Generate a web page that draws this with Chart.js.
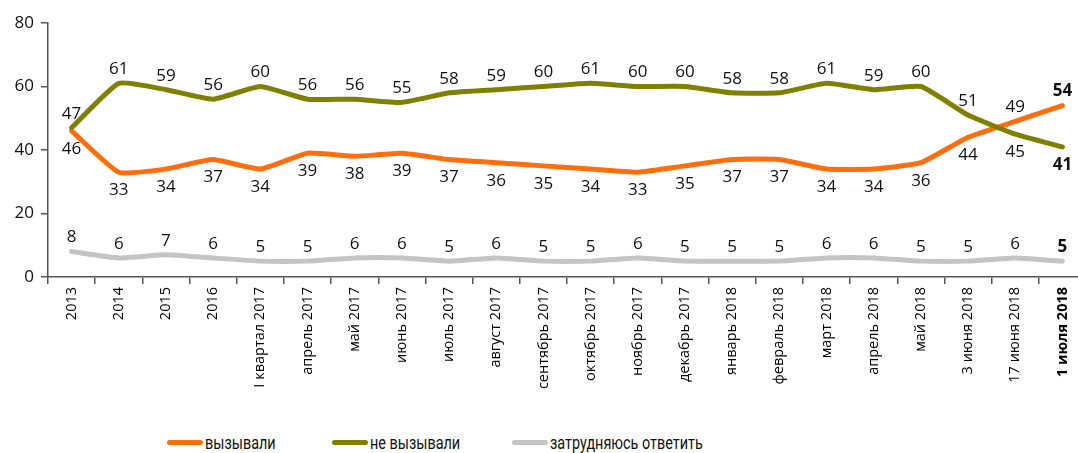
<!DOCTYPE html>
<html lang="ru">
<head>
    <meta charset="UTF-8">
    <title>Вызывали / не вызывали</title>
    <script src="https://cdn.jsdelivr.net/npm/chart.js@4.4.0/dist/chart.umd.min.js"></script>
    <style>
        body {
            margin: 0;
            background: #fff;
            overflow: hidden;
        }
        #wrap {
            position: relative;
            width: 1078px;
            height: 453px;
            overflow: hidden;
        }
        #chart {
            position: absolute;
            left: 0;
            top: 0;
        }
        .legend-item {
            position: absolute;
            top: 432px;
            display: flex;
            align-items: center;
            font-family: Roboto, sans-serif;
            font-size: 18px;
            color: #111;
            white-space: nowrap;
        }
        .legend-mark {
            display: inline-block;
            width: 36px;
            height: 5px;
            border-radius: 3px;
            margin-right: 2px;
        }
        .legend-text {
            display: inline-block;
            transform: scaleX(0.8);
            transform-origin: left center;
        }
    </style>
</head>
<body>
    <div id="wrap">
        <canvas id="chart" width="1086" height="420"></canvas>
    </div>

    <script>
        // Data
        const categories = [
            '2013', '2014', '2015', '2016', 'I квартал 2017', 'апрель 2017', 'май 2017',
            'июнь 2017', 'июль 2017', 'август 2017', 'сентябрь 2017', 'октябрь 2017',
            'ноябрь 2017', 'декабрь 2017', 'январь 2018', 'февраль 2018', 'март 2018',
            'апрель 2018', 'май 2018', '3 июня 2018', '17 июня 2018', '1 июля 2018'
        ];
        const calledValues    = [46, 33, 34, 37, 34, 39, 38, 39, 37, 36, 35, 34, 33, 35, 37, 37, 34, 34, 36, 44, 49, 54];
        const notCalledValues = [47, 61, 59, 56, 60, 56, 56, 55, 58, 59, 60, 61, 60, 60, 58, 58, 61, 59, 60, 51, 45, 41];
        const unsureValues    = [8, 6, 7, 6, 5, 5, 6, 6, 5, 6, 5, 5, 6, 5, 5, 5, 6, 6, 5, 5, 6, 5];
        const seriesNames = ['вызывали', 'не вызывали', 'затрудняюсь ответить'];
        const yMin = 0, yMax = 80, yStep = 20;

        const colors = ['#FF6D0D', '#808000', '#C4C4C4'];
        const legendLeft = [167, 332, 512];
        const FONT = '"Open Sans", "Noto Sans", sans-serif';
        const lastIdx = categories.length - 1;

        // value labels: above/below depending on which line is higher
        const valueLabels = {
            id: 'valueLabels',
            afterDatasetsDraw(chart) {
                const ctx = chart.ctx;
                ctx.save();
                ctx.textAlign = 'center';
                ctx.textBaseline = 'middle';
                ctx.fillStyle = '#111';
                chart.data.datasets.forEach((ds, di) => {
                    const meta = chart.getDatasetMeta(di);
                    meta.data.forEach((pt, i) => {
                        let above = true;
                        if (di === 0) above = calledValues[i] > notCalledValues[i];
                        if (di === 1) above = notCalledValues[i] >= calledValues[i];
                        ctx.font = (i === lastIdx ? 'bold ' : '') + '17px ' + FONT;
                        ctx.fillText(ds.data[i], pt.x, pt.y + (above ? -14 : 18));
                    });
                });
                ctx.restore();
            }
        };

        const seriesData = [calledValues, notCalledValues, unsureValues];
        const chart = new Chart(document.getElementById('chart'), {
            type: 'line',
            data: {
                labels: categories,
                datasets: seriesData.map((d, i) => ({
                    label: seriesNames[i],
                    data: d,
                    borderColor: colors[i],
                    backgroundColor: colors[i],
                    borderWidth: 5,
                    pointRadius: 0,
                    tension: 0.15,
                    borderCapStyle: 'round',
                    borderJoinStyle: 'round',
                    fill: false,
                    order: i === 1 ? 0 : (i === 0 ? 1 : 2)
                }))
            },
            options: {
                responsive: false,
                animation: false,
                devicePixelRatio: 1,
                layout: { padding: { top: 23, left: 0, right: 0, bottom: 0 } },
                plugins: {
                    legend: { display: false },
                    tooltip: { enabled: false }
                },
                scales: {
                    x: {
                        offset: true,
                        grid: {
                            offset: true,
                            drawOnChartArea: false,
                            drawTicks: true,
                            tickLength: 7,
                            color: '#555',
                            lineWidth: 1.5
                        },
                        border: { display: true, color: '#555', width: 1.5 },
                        ticks: {
                            autoSkip: false,
                            maxRotation: 90,
                            minRotation: 90,
                            padding: 3,
                            color: '#000',
                            font: (c) => ({ family: FONT, size: 14.5, weight: c.index === lastIdx ? 'bold' : 'normal' })
                        },
                        afterFit: (scale) => { scale.height = 420 - 277; }
                    },
                    y: {
                        min: yMin,
                        max: yMax,
                        grid: {
                            drawOnChartArea: false,
                            drawTicks: true,
                            tickLength: 7,
                            color: '#555',
                            lineWidth: 1.5
                        },
                        border: { display: true, color: '#555', width: 1.5 },
                        ticks: {
                            stepSize: yStep,
                            padding: 7,
                            color: '#111',
                            font: { family: FONT, size: 17 }
                        },
                        afterFit: (scale) => { scale.width = 48; }
                    }
                }
            },
            plugins: [valueLabels]
        });

        // HTML legend
        const wrap = document.getElementById('wrap');
        seriesNames.forEach((name, i) => {
            const item = document.createElement('div');
            item.className = 'legend-item';
            item.style.left = legendLeft[i] + 'px';
            const mark = document.createElement('span');
            mark.className = 'legend-mark';
            mark.style.background = colors[i];
            const txt = document.createElement('span');
            txt.className = 'legend-text';
            txt.textContent = name;
            item.appendChild(mark);
            item.appendChild(txt);
            wrap.appendChild(item);
        });
    </script>
</body>
</html>
